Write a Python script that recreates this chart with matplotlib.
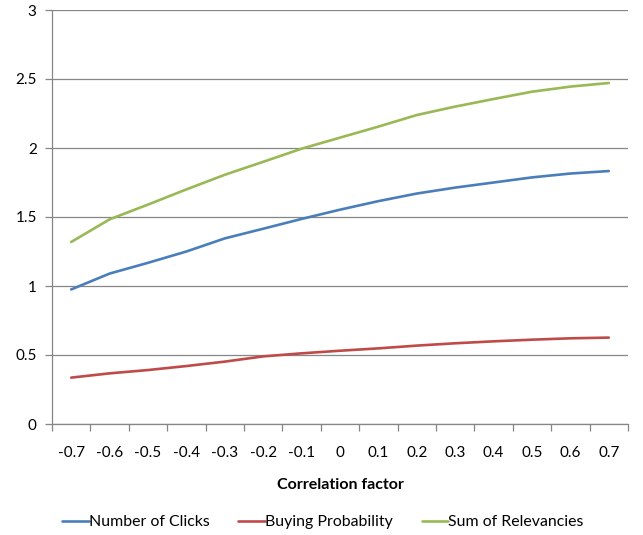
import matplotlib
matplotlib.use("Agg")
import matplotlib.pyplot as plt
from matplotlib.ticker import FixedLocator, FuncFormatter

plt.rcParams['font.family'] = ['Lato', 'DejaVu Sans']

categories = ["-0.7", "-0.6", "-0.5", "-0.4", "-0.3", "-0.2", "-0.1", "0",
              "0.1", "0.2", "0.3", "0.4", "0.5", "0.6", "0.7"]
clicks = [0.975, 1.09, 1.168, 1.25, 1.345, 1.415, 1.486, 1.553,
          1.615, 1.67, 1.713, 1.75, 1.787, 1.815, 1.833]
buying = [0.336, 0.367, 0.391, 0.42, 0.452, 0.49, 0.512, 0.531,
          0.548, 0.568, 0.585, 0.599, 0.611, 0.621, 0.626]
relevancies = [1.319, 1.483, 1.59, 1.70, 1.806, 1.90, 1.995, 2.075,
               2.155, 2.239, 2.30, 2.355, 2.408, 2.445, 2.471]

series_names = ["Number of Clicks", "Buying Probability", "Sum of Relevancies"]
colors = ["#4A7EBB", "#BE4B48", "#98B954"]

W, H = 643, 535
fig = plt.figure(figsize=(W / 100, H / 100), dpi=100)
ax = fig.add_axes([52 / W, 1 - 424 / H, (628 - 52) / W, (424 - 10) / H])

xs = [i + 0.5 for i in range(len(categories))]
for vals, name, c in zip([clicks, buying, relevancies], series_names, colors):
    ax.plot(xs, vals, color=c, lw=1.9, label=name, solid_capstyle='round',
            solid_joinstyle='round')

grid_c = "#868686"
ax.set_xlim(0, len(categories))
ax.set_ylim(0, 3)
ax.set_yticks([0, 0.5, 1, 1.5, 2, 2.5, 3])
ax.yaxis.set_major_formatter(FuncFormatter(lambda v, p: f"{v:g}"))
ax.grid(axis='y', color=grid_c, lw=0.9)
ax.set_axisbelow(True)

ax.set_xticks(xs)
ax.set_xticklabels(categories)
ax.xaxis.set_minor_locator(FixedLocator(list(range(len(categories) + 1))))
ax.tick_params(axis='x', which='major', length=0, pad=16, labelsize=11, colors='black')
ax.tick_params(axis='x', which='minor', length=5, width=0.9, color=grid_c, direction='out')
ax.tick_params(axis='y', which='major', length=5, width=0.9, color=grid_c, pad=6,
               labelsize=11)

for s in ['top', 'right']:
    ax.spines[s].set_visible(False)
for s in ['left', 'bottom']:
    ax.spines[s].set_color(grid_c)
    ax.spines[s].set_linewidth(0.9)

ax.set_xlabel("Correlation factor", fontsize=11.5, fontweight='bold', labelpad=13)

fig.legend(loc='center', bbox_to_anchor=(323 / W, 1 - 522 / H), ncol=3,
           frameon=False, fontsize=11.4, handlelength=1.7, handletextpad=0.0,
           columnspacing=1.8)

fig.savefig("out.png", dpi=100)
